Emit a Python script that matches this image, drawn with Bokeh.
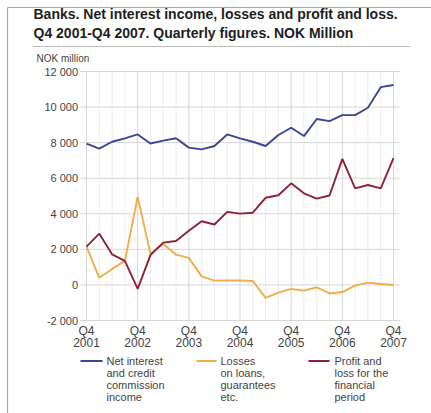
from bokeh.plotting import figure
from bokeh.models import Range1d
from bokeh.core.properties import value
from bokeh.embed import file_html
from bokeh.resources import INLINE

# ---- data ----
quarters = ["Q4 2001", "Q1 2002", "Q2 2002", "Q3 2002", "Q4 2002", "Q1 2003", "Q2 2003", "Q3 2003",
            "Q4 2003", "Q1 2004", "Q2 2004", "Q3 2004", "Q4 2004", "Q1 2005", "Q2 2005", "Q3 2005",
            "Q4 2005", "Q1 2006", "Q2 2006", "Q3 2006", "Q4 2006", "Q1 2007", "Q2 2007", "Q3 2007",
            "Q4 2007"]
net_interest = [7950, 7660, 8050, 8240, 8460, 7950, 8110, 8250, 7720, 7620, 7810, 8460, 8240,
                8050, 7810, 8430, 8840, 8370, 9330, 9210, 9550, 9550, 9960, 11120, 11240]
losses = [2150, 400, 900, 1350, 4950, 1750, 2300, 1700, 1520, 480, 240, 250, 250, 220, -730,
          -430, -220, -320, -130, -480, -400, -40, 130, 50, 0]
profit = [2150, 2880, 1720, 1350, -220, 1680, 2380, 2470, 3050, 3580, 3400, 4110, 4010, 4060,
          4900, 5040, 5710, 5150, 4850, 5030, 7090, 5430, 5620, 5430, 7130]
year_ticks = [0, 4, 8, 12, 16, 20, 24]
year_labels = ["2001", "2002", "2003", "2004", "2005", "2006", "2007"]
quarter_label = "Q4"
y_ticks = [-2000, 0, 2000, 4000, 6000, 8000, 10000, 12000]
y_tick_labels = ["-2 000", "0", "2 000", "4 000", "6 000", "8 000", "10 000", "12 000"]
series_names = [["Net interest", "and credit", "commission", "income"],
                ["Losses", "on loans,", "guarantees", "etc."],
                ["Profit and", "loss for the", "financial", "period"]]
colors = ["#3c4690", "#f2ac48", "#8e2236"]
title_lines = ["Banks. Net interest income, losses and profit and loss.",
               "Q4 2001-Q4 2007. Quarterly figures. NOK Million"]
unit_label = "NOK million"

FONT = "Liberation Sans"
W, H = 431, 413
# plot region inside the canvas (pixels)
FL, FR, FT, FB = 79.6, 399.4, 71, 320
X0, X1 = -0.5, 24.5
Y0, Y1 = -2000, 12000
sx = (X1 - X0) / (FR - FL)
sy = (Y1 - Y0) / (FB - FT)

p = figure(width=W, height=H, output_backend="svg", toolbar_location=None,
           x_axis_type=None, y_axis_type=None,
           x_range=Range1d(0, W), y_range=Range1d(H, 0),
           min_border=0, min_border_left=0, min_border_right=0,
           min_border_top=0, min_border_bottom=0)
p.grid.visible = False
p.outline_line_color = None
p.extra_x_ranges = {"q": Range1d(X0 - FL * sx, X1 + (W - FR) * sx)}
p.extra_y_ranges = {"v": Range1d(Y0 - (H - FB) * sy, Y1 + FT * sy)}

x = list(range(len(quarters)))

# outer frame (top and left edges)
p.segment(x0=[7, 7], y0=[7, 7], x1=[431, 7], y1=[7, 413], line_color="#a8a8a8", line_width=1.2)

# grid lines (quarterly light, yearly darker, horizontal at value ticks)
minor_x = [i for i in x if i not in year_ticks]
p.segment(x0=minor_x, y0=[Y0] * len(minor_x), x1=minor_x, y1=[Y1] * len(minor_x),
          x_range_name="q", y_range_name="v", line_color="#ececec", line_width=1)
p.segment(x0=year_ticks, y0=[Y0] * len(year_ticks), x1=year_ticks, y1=[Y1] * len(year_ticks),
          x_range_name="q", y_range_name="v", line_color="#d6d6d6", line_width=1)
p.segment(x0=[X0] * len(y_ticks), y0=y_ticks, x1=[X1] * len(y_ticks), y1=y_ticks,
          x_range_name="q", y_range_name="v", line_color="#d6d6d6", line_width=1)

# series
for ys, c in zip([net_interest, losses, profit], colors):
    p.line(x, ys, x_range_name="q", y_range_name="v", line_color=c, line_width=1.9)

# y tick labels
p.text(x=[FL - 2] * len(y_ticks), y=y_ticks, text=y_tick_labels, y_range_name="v",
       text_align="right", text_baseline="middle", text_font=value(FONT),
       text_font_size="11px", text_color="#444444")
# x tick labels
p.text(x=year_ticks, y=[FB + 10] * len(year_ticks), text=[quarter_label] * len(year_ticks),
       x_range_name="q", text_align="center", text_baseline="middle", text_font=value(FONT),
       text_font_size="12px", text_color="#444444")
p.text(x=year_ticks, y=[FB + 22] * len(year_ticks), text=year_labels,
       x_range_name="q", text_align="center", text_baseline="middle", text_font=value(FONT),
       text_font_size="12px", text_color="#444444")

# header
p.text(x=[33, 33], y=[13, 32], text=title_lines, text_baseline="middle", text_align="left",
       text_font=value(FONT), text_font_size="14px", text_font_style="bold",
       text_color="#1e1e1e")
p.segment(x0=[32], y0=[46], x1=[410], y1=[46], line_color="#bdbdbd", line_width=1)
p.text(x=[36], y=[58], text=[unit_label], text_baseline="middle", text_align="left",
       text_font=value(FONT), text_font_size="10px", text_color="#444444")

# legend
leg_x = [(80, 102, 106), (196, 216, 220), (308, 329, 334)]
line_ys = [360.5, 372, 384, 396]
for (lx0, lx1, tx), names, c in zip(leg_x, series_names, colors):
    p.segment(x0=[lx0], y0=[line_ys[0]], x1=[lx1], y1=[line_ys[0]],
              line_color=c, line_width=1.9)
    p.text(x=[tx] * len(names), y=line_ys, text=names,
           text_baseline="middle", text_align="left", text_font=value(FONT),
           text_font_size="11px", text_color="#444444")

open("out.html", "w").write(file_html(p, INLINE))
